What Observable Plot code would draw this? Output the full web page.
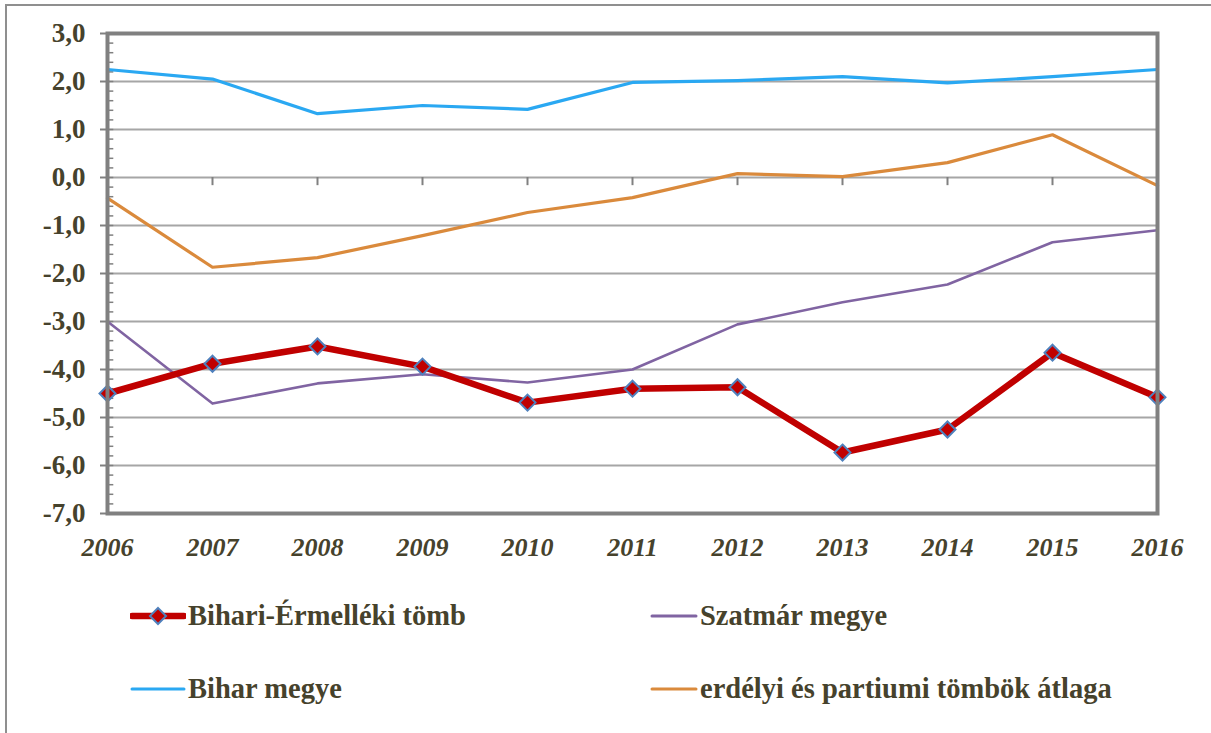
<!DOCTYPE html>
<html><head><meta charset="utf-8">
<script src="https://cdn.jsdelivr.net/npm/d3@7"></script>
<script src="https://cdn.jsdelivr.net/npm/@observablehq/plot@0.6"></script>
<style>
html,body{margin:0;padding:0;background:#fff;overflow:hidden;width:1211px;height:733px;}
#frame{position:absolute;left:5px;top:4px;width:1240px;height:780px;border:2px solid #8f8f8f;box-sizing:border-box;}
#chart{position:absolute;left:0;top:0;}
.leg{position:absolute;display:flex;align-items:center;height:34px;font-family:"Liberation Serif","Times New Roman",serif;font-weight:bold;font-size:28.5px;color:#46422c;white-space:nowrap;}
.leg svg{display:block;margin-right:2px;}
</style>
</head><body>
<div id="frame"></div>
<div id="chart"></div>
<div id="legend"></div>
<script>
const years = [2006, 2007, 2008, 2009, 2010, 2011, 2012, 2013, 2014, 2015, 2016];
const bihariErmelleki = [-4.50, -3.88, -3.52, -3.94, -4.69, -4.40, -4.37, -5.73, -5.25, -3.65, -4.58];
const szatmarMegye = [-3.00, -4.71, -4.29, -4.10, -4.27, -4.00, -3.06, -2.60, -2.23, -1.35, -1.10];
const biharMegye = [2.25, 2.05, 1.33, 1.50, 1.42, 1.98, 2.02, 2.10, 1.97, 2.10, 2.25];
const atlag = [-0.43, -1.87, -1.67, -1.21, -0.73, -0.42, 0.08, 0.02, 0.31, 0.89, -0.17];
const seriesNames = ["Bihari-Érmelléki tömb", "Szatmár megye", "Bihar megye", "erdélyi és partiumi tömbök átlaga"];
const seriesColors = ["#c00000", "#8064a2", "#2aa8f2", "#da8a3c"];
const yTicks = [-7, -6, -5, -4, -3, -2, -1, 0, 1, 2, 3];
const yMinor = d3.range(-35, 16).map(d => d / 5);

const toRows = arr => years.map((y, i) => ({year: y, value: arr[i]}));
const redRows = toRows(bihariErmelleki);
const fmt = d => d.toFixed(1).replace(".", ",");
const textColor = "#46422c";
const axisGray = "#808080";

const chart = Plot.plot({
  width: 1211,
  height: 580,
  marginLeft: 107,
  marginRight: 54,
  marginTop: 33,
  marginBottom: 67,
  style: {fontFamily: "'Liberation Serif', 'Times New Roman', serif", background: "transparent", overflow: "visible"},
  x: {domain: [2006, 2016], type: "linear", label: null},
  y: {domain: [-7, 3], label: null},
  marks: [
    Plot.gridY(yTicks, {stroke: "#a6a6a6", strokeOpacity: 1, strokeWidth: 2}),
    Plot.ruleY(yMinor, {x1: 2006, x2: 2006.06, stroke: axisGray, strokeWidth: 1.5}),
    Plot.ruleX(years.slice(1, -1), {y1: 0, y2: -0.17, stroke: axisGray, strokeWidth: 2}),
    Plot.line(toRows(biharMegye), {x: "year", y: "value", stroke: seriesColors[2], strokeWidth: 3.2}),
    Plot.line(toRows(atlag), {x: "year", y: "value", stroke: seriesColors[3], strokeWidth: 3.2}),
    Plot.line(toRows(szatmarMegye), {x: "year", y: "value", stroke: seriesColors[1], strokeWidth: 2.6}),
    Plot.line(redRows, {x: "year", y: "value", stroke: seriesColors[0], strokeWidth: 6.5, strokeLinejoin: "miter"}),
    Plot.dot(redRows, {x: "year", y: "value", symbol: "diamond2", r: 7.2, fill: seriesColors[0], stroke: "#4f81bd", strokeWidth: 2}),
    Plot.frame({stroke: axisGray, strokeWidth: 4}),
    Plot.axisY(yTicks, {tickSize: 7, tickPadding: 15, tickFormat: fmt, stroke: axisGray, strokeWidth: 2,
      fontSize: 27, fontWeight: "bold", fill: textColor, label: null}),
    Plot.axisX(years, {tickSize: 0, tickPadding: 24, tickFormat: d => String(d),
      fontSize: 26, fontWeight: "bold", fontStyle: "italic", fill: textColor, label: null})
  ]
});
document.getElementById("chart").appendChild(chart);

// legend (HTML, below the plot area)
const legendPos = [
  {left: 130, top: 599}, {left: 650, top: 599},
  {left: 130, top: 672}, {left: 650, top: 672}
];
const order = [0, 1, 2, 3];
const legend = document.getElementById("legend");
order.forEach((k, i) => {
  const div = document.createElement("div");
  div.className = "leg";
  div.style.left = legendPos[i].left + "px";
  div.style.top = legendPos[i].top + "px";
  const w = k === 0 || k === 2 ? 56 : 48;
  const ns = "http://www.w3.org/2000/svg";
  const s = document.createElementNS(ns, "svg");
  s.setAttribute("width", w); s.setAttribute("height", 24);
  const ln = document.createElementNS(ns, "line");
  ln.setAttribute("x1", 2); ln.setAttribute("x2", w - 2);
  ln.setAttribute("y1", 12); ln.setAttribute("y2", 12);
  ln.setAttribute("stroke", seriesColors[k]);
  ln.setAttribute("stroke-width", k === 0 ? 6.5 : 3);
  ln.setAttribute("stroke-linecap", "round");
  s.appendChild(ln);
  if (k === 0) {
    const p = document.createElementNS(ns, "path");
    p.setAttribute("d", `M${w/2},4L${w/2+8},12L${w/2},20L${w/2-8},12Z`);
    p.setAttribute("fill", seriesColors[0]);
    p.setAttribute("stroke", "#4f81bd");
    p.setAttribute("stroke-width", 2);
    s.appendChild(p);
  }
  div.appendChild(s);
  const t = document.createElement("span");
  t.textContent = seriesNames[k];
  div.appendChild(t);
  legend.appendChild(div);
});
</script>
</body></html>
